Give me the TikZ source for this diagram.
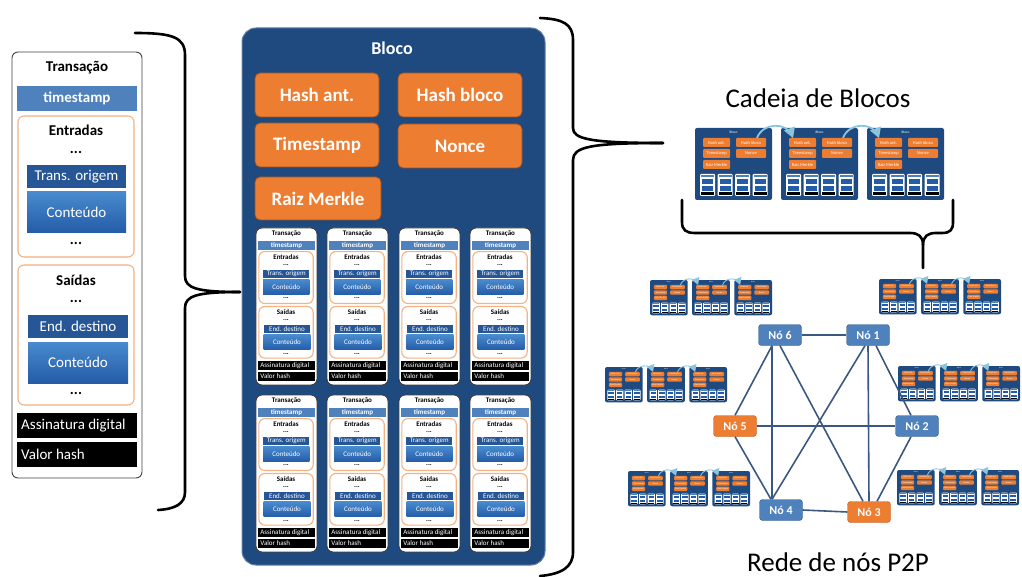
\documentclass[tikz,border=0pt]{standalone}
\usepackage{fontspec}
\setmainfont{Carlito}
\usetikzlibrary{arrows,positioning}

\definecolor{blocoazul}{RGB}{30,74,128}
\definecolor{laranja}{RGB}{237,125,49}
\definecolor{tsazul}{RGB}{79,129,189}
\definecolor{barraesc}{RGB}{38,86,150}
\definecolor{barraclara}{RGB}{72,138,205}
\definecolor{barrafunda}{RGB}{36,92,168}
\definecolor{bordalar}{RGB}{244,177,131}
\definecolor{linharede}{RGB}{58,88,128}
\definecolor{eloazul}{RGB}{140,196,222}

\newcommand{\fontgrande}{\fontsize{15}{17}\selectfont}
\newcommand{\fontpeq}{\fontsize{7}{8}\selectfont}

\tikzset{
  tbox/.style={draw=black!75, fill=white, rounded corners=6, line width=0.9},
  secao/.style={draw=bordalar, fill=white, rounded corners=6, line width=1.1},
  barra2/.style={top color=barraclara, bottom color=barrafunda},
  rotulo/.style={inner sep=0pt},
  chave/.style={draw=black, line width=2.6, line cap=round},
  laranjabox/.style={fill=laranja, draw=laranja!65!black, line width=0.8, rounded corners=5,
    minimum width=124, minimum height=44, text=white, font=\fontsize{19}{21}\selectfont\bfseries},
  minilar/.style={fill=laranja, rounded corners=1, inner sep=0pt, minimum width=27,
    minimum height=9, text=white, font=\fontsize{4.5}{5}\selectfont},
  noazul/.style={fill=tsazul, draw=tsazul!70!black, rounded corners=3, minimum width=43,
    minimum height=21, text=white, font=\fontsize{12}{14}\selectfont\bfseries},
  nolaranja/.style={noazul, fill=laranja, draw=laranja!75!black},
  aresta/.style={draw=linharede, line width=1.6},
  titulo/.style={font=\fontsize{27}{30}\selectfont}
}

% transacao: nome, x, y, xscale, yscale, fonte
\newcommand{\transacao}[6]{%
\begin{scope}[shift={(#2,#3)},xscale=#4,yscale=#5]
\draw[tbox] (0,0) rectangle (130,426);
\node[rotulo,font={#6\bfseries}] (#1-t) at (65,16) {Transação};
\fill[tsazul] (5,34) rectangle (125,59);
\node[rotulo,font={#6\bfseries},text=white] (#1-ts) at (65,46.5) {timestamp};
\draw[secao] (6,64) rectangle (122,205);
\node[rotulo,font={#6\bfseries}] (#1-e) at (64,78) {Entradas};
\node[rotulo,font={#6\bfseries}] (#1-e1) at (64,100) {...};
\fill[barraesc] (15,113) rectangle (114,136);
\node[rotulo,font=#6,text=white] (#1-to) at (64.5,124.5) {Trans. origem};
\path[barra2] (15,140) rectangle (114,181);
\node[rotulo,font=#6,text=white] (#1-c1) at (64.5,160.5) {Conteúdo};
\node[rotulo,font={#6\bfseries}] (#1-e2) at (64,191) {...};
\draw[secao] (6,213) rectangle (122,353);
\node[rotulo,font={#6\bfseries}] (#1-s) at (64,228) {Saídas};
\node[rotulo,font={#6\bfseries}] (#1-s1) at (64,249) {...};
\fill[barraesc] (16,263) rectangle (116,286);
\node[rotulo,font=#6,text=white] (#1-ed) at (66,274.5) {End. destino};
\path[barra2] (16,290) rectangle (116,331);
\node[rotulo,font=#6,text=white] (#1-c2) at (66,310.5) {Conteúdo};
\node[rotulo,font={#6\bfseries}] (#1-s2) at (64,341) {...};
\fill[black] (5,361) rectangle (125,386);
\node[rotulo,font=#6,text=white,anchor=west] (#1-ad) at (9,373.5) {Assinatura digital};
\fill[black] (5,390) rectangle (125,415);
\node[rotulo,font=#6,text=white,anchor=west] (#1-vh) at (9,402.5) {Valor hash};
\end{scope}}

% minibloco: nome, x, y
\newcommand{\minibloco}[3]{%
\begin{scope}[shift={(#2,#3)}]
\fill[blocoazul,rounded corners=2] (0,0) rectangle (77,72);
\node[rotulo,text=white,font=\fontsize{3.5}{4}\selectfont] (#1-b) at (38.5,4.5) {Bloco};
\node[minilar] (#1-ha) at (21.5,14.5) {Hash ant.};
\node[minilar,minimum width=30] (#1-hb) at (56,14.5) {Hash bloco};
\node[minilar] (#1-ts) at (21.5,25.5) {Timestamp};
\node[minilar,minimum width=30] (#1-no) at (56,25.5) {Nonce};
\node[minilar] (#1-rm) at (21.5,36.5) {Raiz Merkle};
\foreach \i in {0,1,2,3} {
  \begin{scope}[shift={({5+17.5*\i},46)}]
  \fill[white,rounded corners=1] (0,0) rectangle (15,22);
  \fill[tsazul] (1,1.5) rectangle (14,3.5);
  \fill[barrafunda] (2,5.5) rectangle (13,10);
  \fill[barrafunda] (2,12.5) rectangle (13,17);
  \fill[black] (1,18.5) rectangle (14,21);
  \end{scope}
}
\end{scope}}

% cadeia: nome, x, y, escala
\newcommand{\cadeia}[4]{%
\begin{scope}[shift={(#2,#3)},scale=#4,transform shape]
\minibloco{#1a}{0}{0}
\minibloco{#1b}{86}{0}
\minibloco{#1c}{172}{0}
\draw[eloazul,line width={1.8pt*#4},-triangle 60] (62,10) .. controls (68,-6) and (92,-6) .. (98,10);
\draw[eloazul,line width={1.8pt*#4},-triangle 60] (148,10) .. controls (154,-6) and (178,-6) .. (184,10);
\end{scope}}

\begin{document}
\begin{tikzpicture}[x=1pt,y=-1pt]
\useasboundingbox (0,0) rectangle (1022,577);
\clip (0,0) rectangle (1022,577);

% transacao em detalhe
\transacao{tx}{12}{52}{1}{1}{\fontgrande}

% chaves
\draw[chave] (135,33) .. controls (172,33) and (185,37) .. (185,55) -- (185,276)
  .. controls (185,288) and (196,292) .. (240,292);
\draw[chave] (240,292) .. controls (196,292) and (185,296) .. (185,308) -- (185,492)
  .. controls (185,504) and (175,509) .. (158,510);
\draw[chave] (540,18) .. controls (563,19) and (573,24) .. (573,40) -- (573,128)
  .. controls (573,139) and (590,143) .. (663,143);
\draw[chave] (663,143) .. controls (590,143) and (573,147) .. (573,160) -- (573,552)
  .. controls (573,567) and (562,574) .. (540,576);

% bloco
\draw[fill=blocoazul,draw=blocoazul!70!white,line width=1,rounded corners=14] (242,28) rectangle (545,565);
\node[rotulo,text=white,font=\fontsize{18}{20}\selectfont\bfseries] (tbloco) at (392,48) {Bloco};
\node[laranjabox] (hant) at (317,95) {Hash ant.};
\node[laranjabox] (hbloco) at (460,95) {Hash bloco};
\node[laranjabox] (tstamp) at (317,145) {Timestamp};
\node[laranjabox] (nonce) at (460,146) {Nonce};
\node[laranjabox,minimum width=126,minimum height=43] (raiz) at (318,198.5) {Raiz Merkle};

\transacao{ta}{256}{228}{0.469}{0.3685}{\fontpeq}
\transacao{tb}{327}{228}{0.469}{0.3685}{\fontpeq}
\transacao{tc}{399}{228}{0.469}{0.3685}{\fontpeq}
\transacao{td}{470}{228}{0.469}{0.3685}{\fontpeq}
\transacao{te}{256}{395}{0.469}{0.3685}{\fontpeq}
\transacao{tf}{327}{395}{0.469}{0.3685}{\fontpeq}
\transacao{tg}{399}{395}{0.469}{0.3685}{\fontpeq}
\transacao{th}{470}{395}{0.469}{0.3685}{\fontpeq}

% cadeia de blocos
\node[titulo] (tcadeia) at (818,98) {Cadeia de Blocos};
\cadeia{cb}{695}{128}{1}
\draw[chave] (682,200) -- (682,222) .. controls (682,230) and (686,233) .. (695,233) -- (910,233)
  .. controls (918,233) and (923,236) .. (923,245) -- (923,268);
\draw[chave] (923,245) .. controls (923,236) and (928,233) .. (936,233) -- (942,233)
  .. controls (950,233) and (953,230) .. (953,222) -- (953,200);

% rede P2P
\cadeia{ga}{650}{280}{0.49}
\cadeia{gb}{879}{279}{0.49}
\cadeia{gc}{605}{367}{0.49}
\cadeia{gd}{898}{366}{0.49}
\cadeia{ge}{628}{471}{0.49}
\cadeia{gf}{897}{470}{0.49}

\node[noazul] (n6) at (780,335) {Nó 6};
\node[noazul] (n1) at (868,335) {Nó 1};
\node[nolaranja] (n5) at (735,426) {Nó 5};
\node[noazul] (n2) at (917,426) {Nó 2};
\node[noazul] (n4) at (781,510) {Nó 4};
\node[nolaranja] (n3) at (869,512) {Nó 3};

\draw[aresta] (n6.east) -- (n1.west);
\draw[aresta] ([xshift=-8]n6.south) -- (n5.north);
\draw[aresta] ([xshift=-8]n6.south) -- ([xshift=-9]n4.north);
\draw[aresta] (n6.south) -- ([xshift=-6]n3.north);
\draw[aresta] ([xshift=-3]n1.south) -- ([xshift=-9]n4.north);
\draw[aresta] (n1.south) -- (n3.north);
\draw[aresta] ([xshift=8]n1.south) -- ([xshift=-6]n2.north);
\draw[aresta] (n5.east) -- (n2.west);
\draw[aresta] (n5.south) -- ([xshift=-10]n4.north);
\draw[aresta] ([xshift=-6]n2.south) -- ([xshift=8]n3.north);
\draw[aresta] (n4.east) -- (n3.west);

\node[titulo] (trede) at (838,562) {Rede de nós P2P};
\end{tikzpicture}
\end{document}
